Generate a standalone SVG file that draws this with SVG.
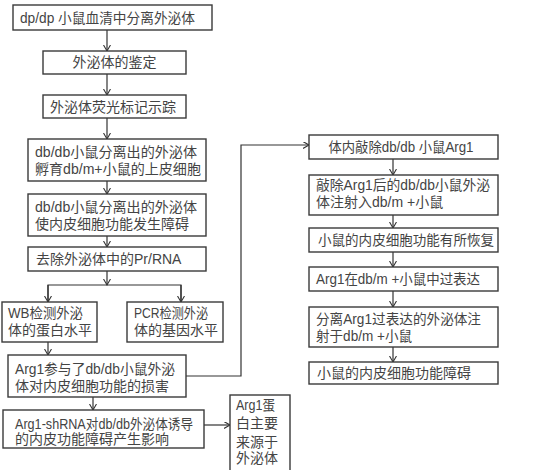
<svg xmlns="http://www.w3.org/2000/svg" width="558" height="470" viewBox="0 0 558 470">
<defs>
<marker id="arr" markerWidth="8" markerHeight="8" refX="6" refY="3.5" orient="auto" markerUnits="userSpaceOnUse">
<path d="M0,0 L6,3.5 L0,7" fill="none" stroke="#333" stroke-width="1.1"/>
</marker>
<style>
.box{fill:#fff;stroke:#3a3a3a;stroke-width:1.4}
.t{font-family:"Liberation Sans","Noto Sans CJK SC",sans-serif;font-size:14px;fill:#444}
.c{text-anchor:middle}
.ln{fill:none;stroke:#333;stroke-width:1.2}
</style>
</defs>
<rect width="558" height="470" fill="#fff"/>
<g id="connectors">
<path class="ln" d="M107,30 V51" marker-end="url(#arr)"/>
<path class="ln" d="M107,74 V95" marker-end="url(#arr)"/>
<path class="ln" d="M107,118 V139" marker-end="url(#arr)"/>
<path class="ln" d="M107,181 V194" marker-end="url(#arr)"/>
<path class="ln" d="M107,236 V247" marker-end="url(#arr)"/>
<path class="ln" d="M107,271 V285" marker-end="url(#arr)"/>
<path class="ln" d="M48,302 V285 H181 V302"/>
<path class="ln" d="M48,285 V302" marker-end="url(#arr)"/>
<path class="ln" d="M181,285 V302" marker-end="url(#arr)"/>
<path class="ln" d="M48,342 V355" marker-end="url(#arr)"/>
<path class="ln" d="M93,397 V410" marker-end="url(#arr)"/>
<path class="ln" d="M204,425 H230" marker-end="url(#arr)"/>
<path class="ln" d="M186,376 H241 V145 H309" marker-end="url(#arr)"/>
<path class="ln" d="M393,159 V175" marker-end="url(#arr)"/>
<path class="ln" d="M393,215 V228" marker-end="url(#arr)"/>
<path class="ln" d="M393,252 V267" marker-end="url(#arr)"/>
<path class="ln" d="M393,291 V307" marker-end="url(#arr)"/>
<path class="ln" d="M393,347 V362" marker-end="url(#arr)"/>
</g>
<g id="n1"><rect class="box" x="13" y="5" width="199" height="25"/><text class="t" x="20" y="23" textLength="175" lengthAdjust="spacingAndGlyphs">dp/dp 小鼠血清中分离外泌体</text></g>
<g id="n2"><rect class="box" x="43" y="51" width="143" height="23"/><text class="t c" x="114.5" y="67">外泌体的鉴定</text></g>
<g id="n3"><rect class="box" x="43" y="95" width="143" height="23"/><text class="t c" x="113" y="112">外泌体荧光标记示踪</text></g>
<g id="n4"><rect class="box" x="28" y="139" width="178" height="42"/><text class="t" x="35" y="157" textLength="162" lengthAdjust="spacingAndGlyphs">db/db小鼠分离出的外泌体</text><text class="t" x="35" y="174" textLength="166" lengthAdjust="spacingAndGlyphs">孵育db/m+小鼠的上皮细胞</text></g>
<g id="n5"><rect class="box" x="28" y="194" width="178" height="42"/><text class="t" x="35" y="212" textLength="162" lengthAdjust="spacingAndGlyphs">db/db小鼠分离出的外泌体</text><text class="t" x="35" y="229">使内皮细胞功能发生障碍</text></g>
<g id="n6"><rect class="box" x="28" y="247" width="178" height="24"/><text class="t" x="36" y="264">去除外泌体中的Pr/RNA</text></g>
<g id="n7"><rect class="box" x="2" y="302" width="95" height="40"/><text class="t" x="8" y="318" textLength="75" lengthAdjust="spacingAndGlyphs">WB检测外泌</text><text class="t" x="8" y="335">体的蛋白水平</text></g>
<g id="n8"><rect class="box" x="127" y="302" width="96" height="40"/><text class="t" x="134" y="318" textLength="74" lengthAdjust="spacingAndGlyphs">PCR检测外泌</text><text class="t" x="134" y="335">体的基因水平</text></g>
<g id="n9"><rect class="box" x="8" y="355" width="178" height="42"/><text class="t" x="15" y="374" textLength="160" lengthAdjust="spacingAndGlyphs">Arg1参与了db/db小鼠外泌</text><text class="t" x="15" y="391">体对内皮细胞功能的损害</text></g>
<g id="n10"><rect class="box" x="3" y="410" width="201" height="38"/><text class="t" x="15" y="429" textLength="178" lengthAdjust="spacingAndGlyphs">Arg1-shRNA对db/db外泌体诱导</text><text class="t" x="15" y="444">的内皮功能障碍产生影响</text></g>
<g id="n11"><rect class="box" x="230" y="395" width="60" height="80"/><text class="t" x="236" y="410" textLength="39" lengthAdjust="spacingAndGlyphs">Arg1蛋</text><text class="t" x="236" y="428">白主要</text><text class="t" x="236" y="447">来源于</text><text class="t" x="236" y="463">外泌体</text></g>
<g id="r1"><rect class="box" x="309" y="135" width="189" height="24"/><text class="t c" x="401" y="152" textLength="145" lengthAdjust="spacingAndGlyphs">体内敲除db/db 小鼠Arg1</text></g>
<g id="r2"><rect class="box" x="309" y="175" width="189" height="40"/><text class="t" x="316" y="190" textLength="174" lengthAdjust="spacingAndGlyphs">敲除Arg1后的db/db小鼠外泌</text><text class="t" x="316" y="207">体注射入db/m +小鼠</text></g>
<g id="r3"><rect class="box" x="309" y="228" width="189" height="24"/><text class="t" x="318" y="245" textLength="176" lengthAdjust="spacingAndGlyphs">小鼠的内皮细胞功能有所恢复</text></g>
<g id="r4"><rect class="box" x="309" y="267" width="189" height="24"/><text class="t" x="316" y="284" textLength="164" lengthAdjust="spacingAndGlyphs">Arg1在db/m +小鼠中过表达</text></g>
<g id="r5"><rect class="box" x="309" y="307" width="189" height="40"/><text class="t" x="316" y="324" textLength="165" lengthAdjust="spacingAndGlyphs">分离Arg1过表达的外泌体注</text><text class="t" x="316" y="341" textLength="96" lengthAdjust="spacingAndGlyphs">射于db/m +小鼠</text></g>
<g id="r6"><rect class="box" x="309" y="362" width="189" height="22"/><text class="t" x="317" y="378">小鼠的内皮细胞功能障碍</text></g>
</svg>
